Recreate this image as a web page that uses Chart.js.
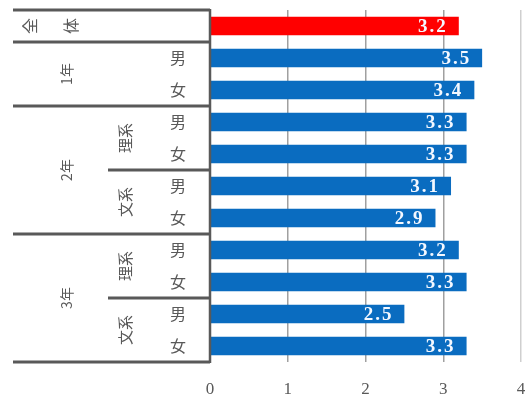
<!DOCTYPE html>
<html>
<head>
<meta charset="utf-8">
<script src="https://cdn.jsdelivr.net/npm/chart.js@4/dist/chart.umd.min.js"></script>
<style>
  html, body { margin: 0; padding: 0; background: #ffffff; }
  #wrap { width: 527px; height: 396px; }
</style>
</head>
<body>
<div id="wrap"><canvas id="c" width="527" height="396"></canvas></div>
<script>
// Rows, top to bottom
const categories = ['全体', '1年男', '1年女', '2年理系男', '2年理系女', '2年文系男', '2年文系女',
                    '3年理系男', '3年理系女', '3年文系男', '3年文系女'];
const values = [3.2, 3.5, 3.4, 3.3, 3.3, 3.1, 2.9, 3.2, 3.3, 2.5, 3.3];
const xTicks = [0, 1, 2, 3, 4];

// Label hierarchy for the left-hand table (row ranges are inclusive)
const grades = [ { text: '1年', from: 1, to: 2 }, { text: '2年', from: 3, to: 6 }, { text: '3年', from: 7, to: 10 } ];
const tracks = [ { text: '理系', from: 3, to: 4 }, { text: '文系', from: 5, to: 6 },
                 { text: '理系', from: 7, to: 8 }, { text: '文系', from: 9, to: 10 } ];
const sexes = ['', '男', '女', '男', '女', '男', '女', '男', '女', '男', '女'];

const BLUE = '#0a6cc0';
const RED = '#ff0000';
const INK = '#595959';
const CJK = '"Noto Sans CJK JP", "Noto Sans", sans-serif';

const tablePlugin = {
  id: 'rowTable',
  afterDraw(chart) {
    const ctx = chart.ctx;
    const ys = chart.scales.y;
    const area = chart.chartArea;
    const rowH = (area.bottom - area.top) / categories.length;
    const edge = i => ys.getPixelForValue(i) - rowH / 2;   // top edge of row i
    const mid = (a, b) => (edge(a) + edge(b + 1)) / 2;
    const L = 13, R = area.left, trackX = 108;

    ctx.save();
    ctx.strokeStyle = INK;
    ctx.lineWidth = 3;
    const hline = (x0, y) => { ctx.beginPath(); ctx.moveTo(x0, y); ctx.lineTo(R, y); ctx.stroke(); };
    hline(L, edge(0));
    hline(L, edge(1));
    hline(L, edge(3));
    hline(L, edge(7));
    hline(L, edge(11));
    hline(trackX, edge(5));
    hline(trackX, edge(9));
    ctx.lineWidth = 2.5;
    ctx.beginPath(); ctx.moveTo(R, edge(0) - 1); ctx.lineTo(R, edge(11) + 1); ctx.stroke();

    ctx.fillStyle = INK;
    ctx.textAlign = 'center';
    ctx.textBaseline = 'middle';

    // rotated text, reading bottom to top
    const vtext = (t, x, y, size) => {
      ctx.save();
      ctx.translate(x, y);
      ctx.rotate(-Math.PI / 2);
      ctx.font = size + 'px ' + CJK;
      ctx.fillText(t, 0, 0);
      ctx.restore();
    };
    // 全 体 : two rotated characters side by side
    vtext('全', 30, mid(0, 0), 16);
    vtext('体', 71, mid(0, 0), 16);
    grades.forEach(g => vtext(g.text, 67, mid(g.from, g.to), 14));
    tracks.forEach(t => vtext(t.text, 125, mid(t.from, t.to), 15));

    ctx.font = '16px ' + CJK;
    sexes.forEach((s, i) => { if (s) ctx.fillText(s, 178, ys.getPixelForValue(i)); });
    ctx.restore();
  },
  afterDatasetsDraw(chart) {
    const ctx = chart.ctx;
    const meta = chart.getDatasetMeta(0);
    ctx.save();
    ctx.font = 'bold 19px "Liberation Serif", "DejaVu Serif", serif';
    ctx.letterSpacing = '2px';
    ctx.fillStyle = '#f4f8ff';
    ctx.textAlign = 'right';
    ctx.textBaseline = 'middle';
    meta.data.forEach((bar, i) => {
      ctx.fillText(values[i].toFixed(1), bar.x - 11, bar.y + 1);
    });
    ctx.restore();
  }
};

new Chart(document.getElementById('c'), {
  type: 'bar',
  data: {
    labels: categories,
    datasets: [{
      data: values,
      backgroundColor: values.map((v, i) => i === 0 ? RED : BLUE),
      borderWidth: 0,
      barPercentage: 0.58,
      categoryPercentage: 1.0
    }]
  },
  options: {
    indexAxis: 'y',
    responsive: false,
    animation: false,
    layout: { padding: { left: 210, top: 10, right: 6, bottom: 0 } },
    plugins: { legend: { display: false }, tooltip: { enabled: false } },
    scales: {
      y: { display: false },
      x: {
        min: 0, max: 4,
        afterBuildTicks(scale) { scale.ticks = xTicks.map(v => ({ value: v })); },
        afterFit(scale) {
          scale.height = 34;
          scale.paddingLeft = 0;
          scale.paddingRight = 0;
        },
        border: { display: false },
        grid: {
          drawTicks: false,
          lineWidth: 1.5,
          color: ctx => ctx.tick && ctx.tick.value === 0 ? 'rgba(0,0,0,0)'
                      : (ctx.tick && ctx.tick.value === 4 ? '#cfcfcf' : '#a0a0a0')
        },
        ticks: {
          padding: 17,
          color: INK,
          font: { family: '"Liberation Serif", "DejaVu Serif", serif', size: 17 }
        }
      }
    }
  },
  plugins: [tablePlugin]
});
</script>
</body>
</html>
